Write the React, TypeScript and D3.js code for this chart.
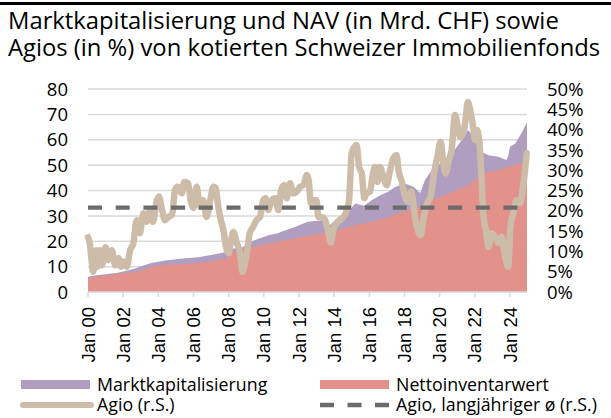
import React from "react";
import * as d3 from "d3";

const TITLE_LINES = [
  "Marktkapitalisierung und NAV (in Mrd. CHF) sowie",
  "Agios (in %) von kotierten Schweizer Immobilienfonds",
];

const leftTicks = [0, 10, 20, 30, 40, 50, 60, 70, 80];
const rightTicks = [0, 5, 10, 15, 20, 25, 30, 35, 40, 45, 50];
const xTickYears = [2000, 2002, 2004, 2006, 2008, 2010, 2012, 2014, 2016, 2018, 2020, 2022, 2024];

const capYears = [
  2000.0, 2000.5, 2001.0, 2001.7, 2002.3, 2002.67, 2003.24, 2003.6, 2004.0, 2004.4, 2005.0, 2005.5, 2006.26,
  2007.0, 2007.5, 2007.9, 2008.2, 2008.6, 2008.8, 2009.1, 2009.5, 2009.9, 2010.26, 2010.8, 2011.0, 2011.8,
  2012.5, 2013.3, 2013.77, 2014.24, 2014.8, 2015.2, 2015.7, 2016.13, 2016.6, 2017.08, 2017.5, 2018.03,
  2018.5, 2018.9, 2019.17, 2019.55, 2020.0, 2020.2, 2020.3, 2020.5, 2020.9, 2021.25, 2021.6, 2022.0,
  2022.4, 2022.78, 2023.35, 2023.8, 2023.9, 2024.0, 2024.3, 2024.65, 2024.97,
];
const navValues = [
  5.4, 6.0, 6.5, 7.1, 7.6, 8.0, 9.0, 10.0, 10.3, 10.6, 10.8, 11.0, 11.3,
  12.2, 12.7, 13.2, 15.5, 16.5, 16.8, 17.4, 17.9, 18.5, 19.0, 19.8, 20.1, 21.1,
  22.2, 23.1, 23.8, 24.4, 25.4, 26.4, 27.0, 27.7, 28.6, 29.6, 30.5, 32.0,
  32.8, 33.6, 35.0, 36.2, 37.3, 38.0, 38.3, 38.8, 40.0, 41.0, 42.0, 44.0,
  46.7, 47.3, 48.0, 49.0, 49.2, 49.5, 50.0, 50.8, 51.3,
];
const mktCapValues = [
  6.0, 6.6, 7.0, 7.6, 8.6, 9.3, 10.6, 11.4, 11.9, 12.4, 12.9, 13.3, 13.7,
  14.6, 15.3, 15.9, 17.0, 17.4, 17.6, 19.2, 20.5, 21.5, 22.4, 23.2, 23.7, 25.7,
  27.7, 28.3, 26.4, 29.6, 31.5, 34.9, 34.0, 36.2, 38.0, 39.5, 41.5, 42.8,
  41.5, 39.0, 44.1, 48.0, 50.5, 51.3, 49.7, 53.0, 56.5, 59.8, 63.8, 61.1,
  55.2, 53.9, 53.3, 52.0, 53.5, 57.2, 58.5, 62.5, 67.0,
];

const agioYears = [
  2000.0, 2000.1, 2000.3, 2000.45, 2000.55, 2000.68, 2000.8, 2001.0, 2001.15, 2001.35, 2001.55, 2001.73, 2001.88,
  2002.0, 2002.2, 2002.4, 2002.58, 2002.77, 2002.95, 2003.15, 2003.33, 2003.5, 2003.7, 2003.9, 2004.03, 2004.19,
  2004.38, 2004.57, 2004.78, 2004.95, 2005.1, 2005.33, 2005.48, 2005.7, 2005.85, 2006.0, 2006.18, 2006.37, 2006.55,
  2006.75, 2006.93, 2007.13, 2007.26, 2007.41, 2007.56, 2007.7, 2007.85, 2008.0, 2008.14, 2008.27, 2008.46, 2008.65,
  2008.78, 2008.93, 2009.08, 2009.2, 2009.4, 2009.59, 2009.78, 2009.97, 2010.1, 2010.25, 2010.44, 2010.63, 2010.83,
  2010.98, 2011.17, 2011.3, 2011.49, 2011.68, 2011.87, 2012.06, 2012.25, 2012.45, 2012.55, 2012.68, 2012.82, 2013.0,
  2013.1, 2013.3, 2013.49, 2013.67, 2013.82, 2013.95, 2014.15, 2014.34, 2014.53, 2014.72, 2014.85, 2015.0, 2015.15,
  2015.28, 2015.42, 2015.57, 2015.72, 2015.85, 2016.04, 2016.19, 2016.33, 2016.47, 2016.6, 2016.8, 2016.99, 2017.18,
  2017.37, 2017.55, 2017.66, 2017.85, 2018.03, 2018.22, 2018.38, 2018.6, 2018.75, 2018.92, 2019.1, 2019.3, 2019.49,
  2019.68, 2019.87, 2020.06, 2020.19, 2020.34, 2020.53, 2020.68, 2020.88, 2021.0, 2021.17, 2021.32, 2021.45, 2021.6,
  2021.74, 2021.88, 2022.02, 2022.12, 2022.27, 2022.37, 2022.5, 2022.63, 2022.78, 2022.95, 2023.15, 2023.34, 2023.53,
  2023.72, 2023.9, 2024.03, 2024.19, 2024.38, 2024.57, 2024.72, 2024.86, 2024.95,
];
const agioPct = [
  13.5, 12, 5, 10.3, 6.2, 10.3, 6.6, 11, 7.9, 10.3, 6.6, 8.4, 6.2,
  7.5, 6.2, 10.3, 12, 17.7, 14.5, 19.4, 17.3, 19.8, 17.3, 22.2, 23.5, 20.7,
  17.7, 18.5, 19, 25.1, 25.9, 24.3, 27.1, 26.8, 22.2, 20.7, 25.9, 21, 22.6,
  18.5, 21.9, 25.9, 25.6, 21, 17.7, 15.3, 11.1, 9.5, 12.8, 14.8, 12.1, 9.6,
  5, 7.1, 11.1, 14.5, 16.1, 17.7, 18.5, 22.6, 23.1, 20.2, 22.6, 23.1, 20.2,
  25.1, 26.3, 23.1, 26.8, 24.3, 24.7, 25.9, 26.3, 28.8, 27.5, 21.9, 22.6, 22.6,
  18.5, 18.5, 17.7, 14.5, 12.1, 15.3, 17, 17.7, 18.5, 20.2, 22.6, 34.2, 35.7,
  36.2, 30.8, 29.2, 23.1, 24.3, 24.7, 28.8, 30.8, 27.1, 30.8, 28.4, 26.3, 30,
  33, 33.7, 30, 27.1, 23.5, 22.2, 24.8, 18.5, 15.3, 14, 18.5, 21.9, 23.5,
  29.2, 33.3, 37, 32.5, 29.2, 32.5, 34.9, 43.6, 41.5, 38.2, 39, 41.5, 46.8,
  44.8, 41.5, 37.4, 39.9, 36.6, 29.2, 18.5, 15.3, 11.1, 14.5, 13.6, 12.1, 13.6,
  8.7, 6.2, 16.1, 19.4, 22.6, 21.9, 25.1, 30, 34.2,
];
const agioLongTermAvg = 20.8;

const LEGEND = [
  { label: "Marktkapitalisierung", kind: "mkt" },
  { label: "Nettoinventarwert", kind: "nav" },
  { label: "Agio (r.S.)", kind: "agio" },
  { label: "Agio, langjähriger ø (r.S.)", kind: "avg" },
];

const C_MKT = "#af9ebf";
const C_NAV = "#e3918b";
const C_AGIO = "#cdbca8";
const C_AVG = "#6b6b6b";
const C_GRID = "#d9d9d9";
const FONT = "'Open Sans', sans-serif";

export default function App() {
  const W = 611;
  const H = 418;
  const x = d3.scaleLinear().domain([2000, 2024.97]).range([88, 527]);
  const yL = d3.scaleLinear().domain([0, 80]).range([292, 89]);
  const yR = d3.scaleLinear().domain([0, 50]).range([292, 89]);

  const capData = capYears.map((t, i) => ({ t, nav: navValues[i], mkt: mktCapValues[i] }));
  const areaMkt = d3.area<any>().x((d) => x(d.t)).y0(yL(0)).y1((d) => yL(d.mkt));
  const areaNav = d3.area<any>().x((d) => x(d.t)).y0(yL(0)).y1((d) => yL(d.nav));
  const agioData = agioYears.map((t, i) => ({ t, v: agioPct[i] }));
  const lineAgio = d3
    .line<any>()
    .x((d) => x(d.t))
    .y((d) => yR(d.v))
    .curve(d3.curveMonotoneX);

  const [x0, x1] = x.range();

  return (
    <svg width={W} height={H} style={{ position: "absolute", left: 0, top: 0, background: "#fff" }}>
      <rect x={0} y={2} width={W} height={3} fill="#000" />
      {TITLE_LINES.map((t, i) => (
        <text key={i} x={8} y={29 + i * 27} fontFamily={FONT} fontSize={23.8} fill="#000">
          {t}
        </text>
      ))}

      {leftTicks.filter((v) => v > 0).map((v) => (
        <line key={v} x1={x0} x2={x1} y1={yL(v)} y2={yL(v)} stroke={C_GRID} strokeWidth={1.5} />
      ))}

      <path d={areaMkt(capData) || ""} fill={C_MKT} />
      <path d={areaNav(capData) || ""} fill={C_NAV} />

      <line x1={x0} x2={x1} y1={yL(0)} y2={yL(0)} stroke={C_GRID} strokeWidth={1.5} />
      {xTickYears.map((yr) => (
        <line key={yr} x1={x(yr)} x2={x(yr)} y1={yL(0)} y2={yL(0) + 5} stroke={C_GRID} strokeWidth={1.5} />
      ))}

      <path d={lineAgio(agioData) || ""} fill="none" stroke={C_AGIO} strokeWidth={6.5} strokeLinejoin="round" strokeLinecap="round" />
      <line
        x1={x0}
        x2={x1}
        y1={yR(agioLongTermAvg)}
        y2={yR(agioLongTermAvg)}
        stroke={C_AVG}
        strokeWidth={4.3}
        strokeDasharray="14,13.7"
      />

      {leftTicks.map((v) => (
        <text key={v} x={68} y={yL(v)} dy="0.36em" textAnchor="end" fontFamily={FONT} fontSize={18.5} fill="#000">
          {v}
        </text>
      ))}
      {rightTicks.map((v) => (
        <text key={v} x={547} y={yR(v)} dy="0.36em" textAnchor="start" fontFamily={FONT} fontSize={18.5} fill="#000">
          {v}%
        </text>
      ))}
      {xTickYears.map((yr) => (
        <text
          key={yr}
          transform={`translate(${x(yr)},307) rotate(-90)`}
          dy="0.36em"
          textAnchor="end"
          fontFamily="'Liberation Sans', Arial, sans-serif"
          fontSize={18.5}
          fill="#000"
        >
          {`Jan ${String(yr % 100).padStart(2, "0")}`}
        </text>
      ))}

      {LEGEND.map((l, i) => {
        const col = i % 2;
        const row = Math.floor(i / 2);
        const sx = col === 0 ? 21 : 320;
        const cy = row === 0 ? 384.5 : 405;
        let sw;
        if (l.kind === "mkt") sw = <rect x={sx} y={cy - 4.5} width={69} height={9} fill={C_MKT} />;
        else if (l.kind === "nav") sw = <rect x={sx} y={cy - 4.5} width={69} height={9} fill={C_NAV} />;
        else if (l.kind === "agio")
          sw = <line x1={sx + 2} x2={sx + 70} y1={cy} y2={cy} stroke={C_AGIO} strokeWidth={6} strokeLinecap="round" />;
        else
          sw = <line x1={sx} x2={sx + 70} y1={cy} y2={cy} stroke={C_AVG} strokeWidth={4.3} strokeDasharray="14,13.5" />;
        return (
          <g key={l.label}>
            {sw}
            <text x={sx + 76} y={cy} dy="0.36em" fontFamily={FONT} fontSize={17.8} fill="#000">
              {l.label}
            </text>
          </g>
        );
      })}
    </svg>
  );
}
